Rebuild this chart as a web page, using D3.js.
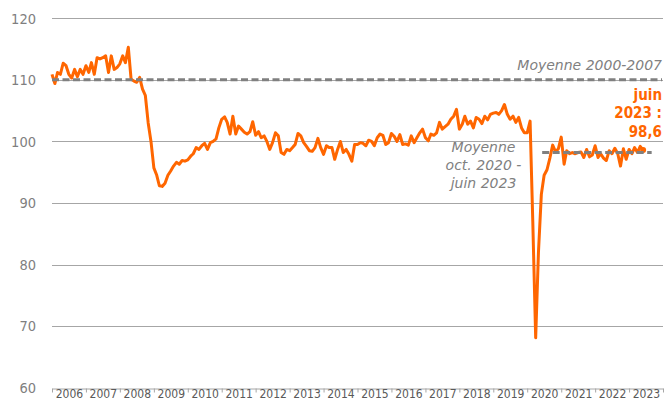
<!DOCTYPE html>
<html>
<head>
<meta charset="utf-8">
<script src="https://cdn.jsdelivr.net/npm/d3@7/dist/d3.min.js"></script>
<style>
body { margin: 0; background: #fff; }
svg { display: block; }
</style>
</head>
<body>
<script>
// monthly index, Jan 2006 -> Jun 2023, one row per year
var indexValues = [
    110.9, 109.4, 111.2, 110.9, 112.7, 112.3, 110.9, 110.3, 111.7, 110.5, 111.7, 110.9, // 2006
    112.3, 111.2, 112.8, 110.9, 113.6, 113.4, 113.6, 113.9, 111.2, 113.9, 111.7, 112.0, // 2007
    112.6, 113.9, 112.8, 115.3, 110.1, 109.8, 109.6, 110.4, 108.5, 107.5, 103.0, 100.0, // 2008
    95.7, 94.5, 92.8, 92.7, 93.2, 94.5, 95.2, 96.0, 96.6, 96.3, 96.9, 96.8,             // 2009
    97.0, 97.6, 98.0, 99.0, 98.7, 99.3, 99.7, 98.7, 99.8, 100.0, 100.4, 102.2,          // 2010
    103.6, 104.0, 103.1, 101.2, 104.1, 101.2, 102.5, 102.0, 101.5, 101.2, 101.6, 103.2, // 2011
    101.0, 101.6, 100.6, 100.9, 100.0, 98.7, 99.8, 101.4, 100.9, 98.2, 97.9, 98.7,      // 2012
    98.5, 99.0, 99.5, 101.3, 100.9, 99.8, 99.2, 98.5, 98.4, 99.0, 100.5, 99.0,          // 2013
    97.9, 99.3, 99.0, 99.0, 97.1, 98.7, 100.0, 98.2, 98.7, 97.9, 96.8, 99.5,            // 2014
    99.5, 99.8, 99.7, 99.3, 100.2, 100.0, 99.3, 100.6, 101.2, 101.0, 99.5, 99.8,        // 2015
    101.3, 100.8, 100.0, 101.1, 99.5, 99.6, 99.4, 100.9, 99.8, 100.6, 101.4, 102.0,     // 2016
    100.6, 100.1, 101.2, 101.0, 101.4, 103.1, 102.0, 102.4, 102.8, 103.6, 104.1, 105.2, // 2017
    102.0, 102.8, 104.1, 102.8, 103.3, 102.2, 103.9, 103.6, 102.9, 104.1, 103.5, 104.4, // 2018
    104.6, 104.7, 104.4, 105.0, 106.0, 104.4, 103.6, 104.1, 103.1, 103.9, 102.2, 101.4, // 2019
    101.4, 103.3, 87.0, 68.1, 82.0, 91.4, 94.5, 95.4, 97.3, 99.4, 98.3, 98.8,           // 2020
    100.7, 96.3, 98.5, 98.0, 98.2, 98.0, 98.2, 98.3, 97.4, 98.7, 97.5, 97.8,            // 2021
    99.3, 97.4, 98.0, 97.3, 96.9, 98.5, 98.0, 98.9, 98.0, 96.0, 98.8, 97.1,             // 2022
    98.7, 98.0, 99.0, 98.2, 99.2, 98.6                                                  // 2023
];
var yearLabels = ['2006', '2007', '2008', '2009', '2010', '2011', '2012', '2013', '2014',
    '2015', '2016', '2017', '2018', '2019', '2020', '2021', '2022', '2023'];
var yTicks = [60, 70, 80, 90, 100, 110, 120];
var avgPre = 110.0;   // Moyenne 2000-2007
var avgPost = 98.2;   // Moyenne oct. 2020 - juin 2023
var lastLabel = ['juin', '2023 :', '98,6'];
var avgPostLabel = ['Moyenne', 'oct. 2020 -', 'juin 2023'];

var w = 667, h = 401;
var orange = '#ff6600';
var grey = '#808080';

var series = indexValues.map(function(v, i) {
    return { date: new Date(2006, i, 1), value: v };
});

var x = d3.scaleTime()
    .domain([new Date(2006, 0, 1), new Date(2024, 0, 1)])
    .range([52, 663]);
var y = d3.scaleLinear()
    .domain([60, 120])
    .range([387.7, 18.3]);

var svg = d3.select('body')
    .append('svg')
    .attr('width', w)
    .attr('height', h)
    .style('font-family', '"DejaVu Sans", sans-serif');

// horizontal grid
svg.append('g')
    .selectAll('line')
    .data(yTicks.slice(1))
    .enter().append('line')
    .attr('x1', x.range()[0])
    .attr('x2', x.range()[1])
    .attr('y1', function(d) { return Math.round(y(d)) + 0.5; })
    .attr('y2', function(d) { return Math.round(y(d)) + 0.5; })
    .attr('stroke', '#a6a6a6')
    .attr('stroke-width', 1);

// y labels
svg.append('g')
    .selectAll('text')
    .data(yTicks)
    .enter().append('text')
    .attr('x', 36)
    .attr('y', function(d) { return y(d); })
    .attr('dy', '0.36em')
    .attr('text-anchor', 'end')
    .style('font-family', '"DejaVu Sans Condensed", "DejaVu Sans", sans-serif')
    .style('font-size', '14.5px')
    .attr('fill', '#7f7f7f')
    .text(function(d) { return d; });

// x axis: year boundary ticks
var yearStarts = yearLabels.map(function(l) { return new Date(+l, 0, 1); });
yearStarts.push(new Date(2024, 0, 1));
var axisG = svg.append('g')
    .attr('transform', 'translate(0,' + (Math.round(y(60)) + 0.5) + ')')
    .call(d3.axisBottom(x).tickValues(yearStarts).tickSize(4).tickSizeOuter(0).tickFormat(''));
axisG.selectAll('path, line').attr('stroke', '#a6a6a6');

// year labels centred in each year
var midYears = yearLabels.map(function(l) { return new Date(+l, 6, 2); });
var labG = svg.append('g')
    .attr('transform', 'translate(0,' + y(60) + ')')
    .call(d3.axisBottom(x).tickValues(midYears).tickSize(0)
        .tickFormat(function(d, i) { return yearLabels[i]; }));
labG.select('.domain').remove();
labG.selectAll('text')
    .attr('y', 10)
    .attr('dy', 0)
    .style('font-family', '"DejaVu Sans Condensed", "DejaVu Sans", sans-serif')
    .style('font-size', '12px')
    .attr('fill', '#595959');

// data line
var line = d3.line()
    .x(function(d) { return x(d.date); })
    .y(function(d) { return y(d.value); });

svg.append('path')
    .datum(series)
    .attr('d', line)
    .attr('fill', 'none')
    .attr('stroke', orange)
    .attr('stroke-width', 3)
    .attr('stroke-linejoin', 'round');

var last = series[series.length - 1];
svg.append('circle')
    .attr('cx', x(last.date))
    .attr('cy', y(last.value))
    .attr('r', 3)
    .attr('fill', orange);

// average lines
svg.append('line')
    .attr('x1', x(new Date(2006, 0, 1)))
    .attr('x2', x(new Date(2024, 0, 1)) - 1)
    .attr('y1', y(avgPre))
    .attr('y2', y(avgPre))
    .attr('stroke', grey)
    .attr('stroke-width', 3)
    .attr('stroke-dasharray', '7,3.5');

svg.append('line')
    .attr('x1', x(new Date(2020, 5, 10)))
    .attr('x2', x(new Date(2023, 8, 1)))
    .attr('y1', y(avgPost))
    .attr('y2', y(avgPost))
    .attr('stroke', grey)
    .attr('stroke-width', 3)
    .attr('stroke-dasharray', '7,3.5');

// annotations
svg.append('text')
    .attr('x', 662)
    .attr('y', y(avgPre) - 10)
    .attr('text-anchor', 'end')
    .style('font-size', '14px')
    .style('font-style', 'italic')
    .attr('fill', grey)
    .text('Moyenne 2000-2007');

svg.append('g')
    .selectAll('text')
    .data(avgPostLabel)
    .enter().append('text')
    .attr('x', 483.5)
    .attr('y', function(d, i) { return 151.7 + i * 18.3; })
    .attr('text-anchor', 'middle')
    .style('font-size', '14px')
    .style('font-style', 'italic')
    .attr('fill', grey)
    .text(function(d) { return d; });

svg.append('g')
    .selectAll('text')
    .data(lastLabel)
    .enter().append('text')
    .attr('x', 662)
    .attr('y', function(d, i) { return 100 + i * 18.3; })
    .attr('text-anchor', 'end')
    .style('font-family', '"DejaVu Sans Condensed", "DejaVu Sans", sans-serif')
    .style('font-size', '15px')
    .style('font-weight', 'bold')
    .attr('fill', orange)
    .text(function(d) { return d; });
</script>
</body>
</html>
